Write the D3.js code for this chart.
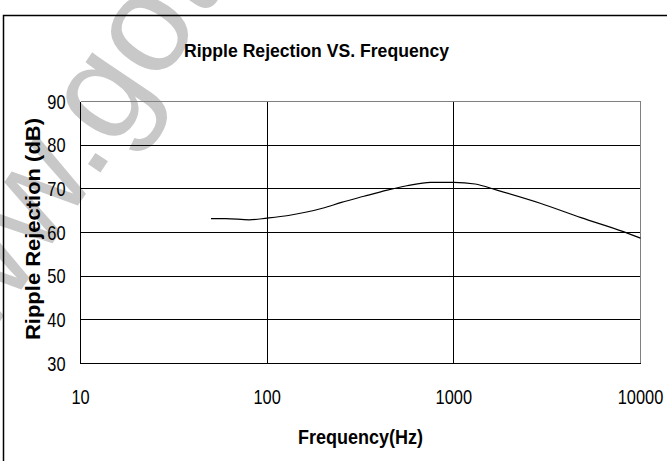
<!DOCTYPE html>
<html>
<head>
<meta charset="utf-8">
<script src="https://cdn.jsdelivr.net/npm/d3@7"></script>
<style>
  html, body { margin: 0; padding: 0; background: #fff; }
  svg { display: block; }
</style>
</head>
<body>
<svg id="chart" width="667" height="461"></svg>
<script>
// ---- data ----
const frequencies = [50, 60, 80, 100, 130, 200, 250, 330, 440, 560, 750, 1000, 1300, 1700, 2900, 4800, 8100, 10000];
const rejection   = [63.2, 63.2, 62.9, 63.3, 63.9, 65.6, 66.9, 68.3, 69.7, 70.7, 71.5, 71.5, 71.1, 69.7, 66.7, 63.4, 60.2, 58.7];
const xTicks = [10, 100, 1000, 10000];
const yTicks = [30, 40, 50, 60, 70, 80, 90];
const titleText = "Ripple Rejection VS. Frequency";
const xTitle = "Frequency(Hz)";
const yTitle = "Ripple Rejection (dB)";
const watermark = "www.goto";

const svg = d3.select("#chart");
const W = 667, H = 461;
const plot = { left: 80.5, right: 640.5, top: 101.5, bottom: 363.5 };

const x = d3.scaleLog().domain([10, 10000]).range([plot.left, plot.right]);
const y = d3.scaleLinear().domain([30, 90]).range([plot.bottom, plot.top]);

svg.append("rect").attr("width", W).attr("height", H).attr("fill", "#fff");

// watermark (behind)
svg.append("text")
  .attr("transform", "translate(-72,428) rotate(-56)")
  .attr("font-family", "Liberation Sans, Arial, sans-serif")
  .attr("font-size", 140)
  .attr("fill", "#c8c8c8")
  .text(watermark);

// outer frame
svg.append("rect")
  .attr("x", 3.5).attr("y", 15.5).attr("width", 720).attr("height", 520)
  .attr("fill", "none").attr("stroke", "#000").attr("stroke-width", 1.5);

const narrow = "Liberation Sans Narrow, Arial Narrow, Liberation Sans, Arial, sans-serif";

// title
svg.append("text")
  .attr("x", 184).attr("y", 57)
  .attr("font-family", narrow)
  .attr("font-weight", "bold").attr("font-size", 19)
  .attr("textLength", 265).attr("lengthAdjust", "spacingAndGlyphs")
  .attr("fill", "#000")
  .text(titleText);

// gridlines
const g = svg.append("g").attr("shape-rendering", "crispEdges");
g.selectAll("line.h").data(yTicks.filter(v => v > 30 && v < 90)).join("line")
  .attr("x1", plot.left).attr("x2", plot.right)
  .attr("y1", d => y(d)).attr("y2", d => y(d))
  .attr("stroke", "#000").attr("stroke-width", 1);
g.selectAll("line.v").data(xTicks.filter(v => v > 10 && v < 10000)).join("line")
  .attr("y1", plot.top).attr("y2", plot.bottom)
  .attr("x1", d => x(d)).attr("x2", d => x(d))
  .attr("stroke", "#000").attr("stroke-width", 1);

// plot border: top/right gray, left/bottom black axes
g.append("line").attr("x1", plot.left).attr("x2", plot.right).attr("y1", plot.top).attr("y2", plot.top)
  .attr("stroke", "#808080");
g.append("line").attr("x1", plot.right).attr("x2", plot.right).attr("y1", plot.top).attr("y2", plot.bottom)
  .attr("stroke", "#808080");
g.append("line").attr("x1", plot.left).attr("x2", plot.left).attr("y1", plot.top).attr("y2", plot.bottom)
  .attr("stroke", "#000");
g.append("line").attr("x1", plot.left).attr("x2", plot.right).attr("y1", plot.bottom).attr("y2", plot.bottom)
  .attr("stroke", "#000");

// tick labels (condensed horizontally)
const sx = 0.82;
svg.selectAll("text.yt").data(yTicks).join("text")
  .attr("transform", d => `translate(65.5,${y(d)}) scale(${sx},1)`)
  .attr("dy", "0.36em")
  .attr("text-anchor", "end")
  .attr("font-family", narrow).attr("font-size", 20).attr("fill", "#000")
  .text(d => d);
svg.selectAll("text.xt").data(xTicks).join("text")
  .attr("transform", d => `translate(${x(d)},404) scale(${sx},1)`)
  .attr("text-anchor", "middle")
  .attr("font-family", narrow).attr("font-size", 20).attr("fill", "#000")
  .text(d => d);

// axis titles
svg.append("text")
  .attr("x", 298).attr("y", 444)
  .attr("font-family", narrow)
  .attr("font-weight", "bold").attr("font-size", 20)
  .attr("textLength", 125).attr("lengthAdjust", "spacingAndGlyphs")
  .attr("fill", "#000")
  .text(xTitle);
svg.append("text")
  .attr("transform", "translate(40,340) rotate(-90)")
  .attr("font-family", "Liberation Sans, Arial, sans-serif")
  .attr("font-weight", "bold").attr("font-size", 20)
  .attr("textLength", 222).attr("lengthAdjust", "spacingAndGlyphs")
  .attr("fill", "#000")
  .text(yTitle);

// data line
const line = d3.line()
  .x((d, i) => x(frequencies[i]))
  .y(d => y(d))
  .curve(d3.curveMonotoneX);
svg.append("path")
  .datum(rejection)
  .attr("d", line)
  .attr("fill", "none").attr("stroke", "#000").attr("stroke-width", 1.2);
</script>
</body>
</html>
